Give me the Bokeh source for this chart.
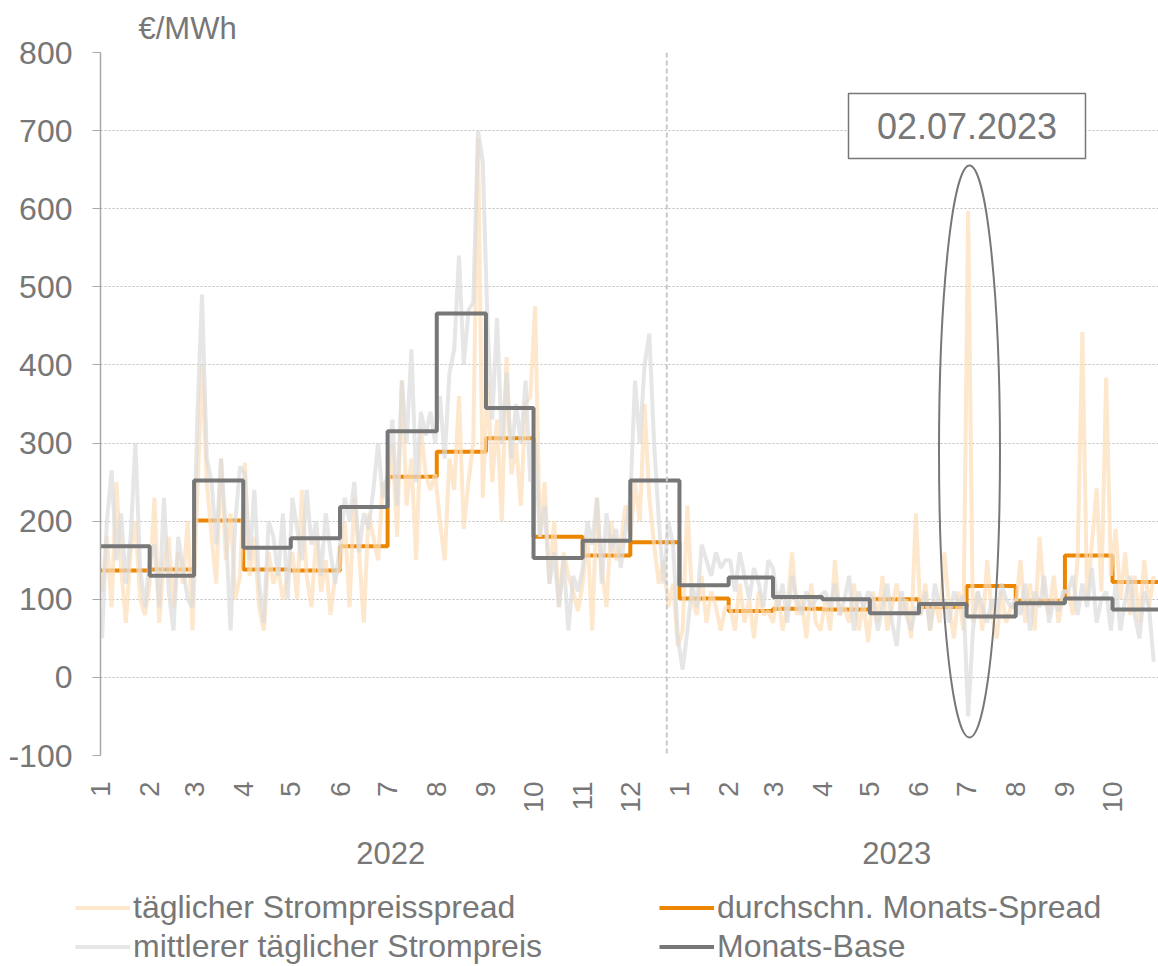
from math import pi
from bokeh.plotting import figure
from bokeh.models import (Range1d, FixedTicker, Legend, LegendItem, Label,
                          BoxAnnotation, Span, LinearAxis)
from bokeh.embed import file_html
from bokeh.resources import INLINE

# ---------------- data ----------------
# day index counted from 2022-01-01; month starts (last entry = end of axis)
month_start_day = [0, 31, 59, 90, 120, 151, 181, 212, 243, 273, 304, 334,
                   365, 396, 424, 455, 485, 516, 546, 577, 608, 638, 667]
month_labels = ["1", "2", "3", "4", "5", "6", "7", "8", "9", "10", "11", "12",
                "1", "2", "3", "4", "5", "6", "7", "8", "9", "10"]
year_labels = ["2022", "2023"]
year_center_day = [183, 502]

# monthly values (EUR/MWh)
monats_base = [168, 130, 252, 166, 178, 218, 315, 466, 345, 153, 175, 252,
               118, 128, 103, 100, 82, 94, 78, 95, 101, 87]
monats_spread = [137, 138, 201, 138, 137, 168, 257, 289, 306, 180, 156, 173,
                 101, 85, 88, 87, 100, 90, 117, 98, 156, 122]

# daily values, read every 3rd day starting 2022-01-02
first_day = 1
step_days = 3
daily_spread = [
    110, 180, 90, 250, 140, 70, 160, 200, 100, 80,            # Jan 22
    120, 230, 70, 150, 180, 90, 160, 120, 200, 60,            # Feb
    230, 400, 250, 180, 120, 280, 150, 210, 100, 130,         # Mar
    275, 130, 180, 90, 60, 160, 120, 140, 100, 130,           # Apr
    160, 100, 240, 130, 90, 180, 110, 150, 80, 130,           # May
    140, 200, 90, 230, 160, 70, 210, 180, 150, 250,           # Jun
    230, 300, 180, 380, 220, 280, 150, 320, 260, 240, 260,    # Jul
    200, 150, 280, 240, 360, 190, 250, 300, 690, 230,         # Aug
    380, 250, 330, 200, 410, 260, 300, 220, 350, 360,         # Sep
    475, 180, 250, 120, 200, 90, 160, 130, 110, 85,           # Oct
    120, 180, 60, 230, 140, 90, 200, 150, 170, 220,           # Nov
    180, 250, 200, 350, 230, 170, 120, 150, 90, 120, 40,      # Dec
    60, 220, 100, 80, 130, 70, 110, 90, 60, 90,               # Jan 23
    90, 60, 120, 70, 100, 50, 110, 80, 85,                    # Feb
    70, 110, 60, 90, 160, 80, 100, 50, 120, 70, 60,           # Mar
    100, 60, 150, 80, 90, 70, 120, 60, 95, 45,                # Apr
    110, 70, 130, 60, 90, 120, 80, 100, 50, 210,              # May
    80, 120, 60, 100, 70, 160, 90, 50, 110, 60,               # Jun
    597, 70, 110, 60, 150, 80, 50, 110, 70, 90,               # Jul
    90, 150, 70, 120, 60, 180, 100, 80, 130, 70, 110,         # Aug
    110, 80, 150, 442, 100, 170, 242, 110, 384, 130,          # Sep
    190, 100, 160, 80, 130, 70, 150, 90, 130,                 # Oct
]
daily_price = [
    50, 200, 265, 150, 210, 120, 180, 300, 140, 90,           # Jan 22
    150, 170, 90, 230, 110, 60, 180, 140, 100, 90,            # Feb
    330, 490, 280, 250, 170, 280, 190, 60, 200, 270,          # Mar
    260, 150, 240, 120, 70, 200, 180, 130, 210, 100,          # Apr
    230, 190, 150, 240, 170, 200, 130, 210, 160, 120,         # May
    170, 230, 200, 250, 160, 210, 190, 240, 300, 230,         # Jun
    260, 330, 220, 380, 300, 420, 250, 340, 310, 340, 300,    # Jul
    360, 280, 390, 420, 540, 400, 470, 480, 700, 660,         # Aug
    450, 330, 460, 300, 390, 280, 350, 300, 380, 250,         # Sep
    300, 180, 220, 120, 160, 90, 150, 60, 130, 110,           # Oct
    140, 200, 170, 230, 120, 210, 160, 190, 140, 190,         # Nov
    230, 380, 300, 400, 440, 300, 200, 120, 200, 170, 50,     # Dec
    10, 60, 120, 90, 170, 150, 130, 160, 140, 150,            # Jan 23
    150, 110, 160, 130, 100, 140, 120, 90, 150,               # Feb
    140, 90, 120, 70, 130, 100, 80, 110, 90, 100, 105,        # Mar
    110, 90, 120, 80, 100, 130, 60, 110, 90, 110,             # Apr
    100, 60, 90, 120, 70, 40, 110, 80, 60, 90,                # May
    80, 110, 60, 120, 90, 100, 70, 110, 95, 105,              # Jun
    -50, 60, 110, 90, 70, 100, 80, 120, 100, 90,              # Jul
    100, 80, 120, 60, 110, 90, 130, 70, 100, 85, 110,         # Aug
    110, 130, 80, 120, 90, 140, 70, 100, 110, 60,             # Sep
    120, 60, 100, 130, 80, 50, 110, 90, 20,                   # Oct
]
days = [first_day + step_days * i for i in range(len(daily_spread))]

highlight_text = "02.07.2023"
divider_day = 357
unit_text = "€/MWh"
legend_labels = ["täglicher Strompreisspread", "mittlerer täglicher Strompreis",
                 "durchschn. Monats-Spread", "Monats-Base"]

# ---------------- styling ----------------
FONT = "Liberation Sans"
TXT = "#777777"
ORANGE = "#EC8500"
DARK = "#777777"
LIGHT_OR = "#FCDDB8"
LIGHT_GR = "#DCDCDC"
FS = "31px"
FS_BIG = "32px"

W = 1158
H_MAIN, H_LEG = 880, 86
ML, MT = 100, 52
FW, FH = 1058, 703
X0, X1, Y0, Y1 = 0, 667, -100, 800
ppx = FW / (X1 - X0)          # px per day
ppy = FH / (Y1 - Y0)          # px per EUR


def dx(px):   # picture x -> day
    return X0 + (px - ML) / ppx


def dy(py):   # picture y -> value
    return Y1 - (py - MT) / ppy


# ---------------- main chart ----------------
p = figure(width=W, height=H_MAIN, x_range=Range1d(X0, X1), y_range=Range1d(Y0, Y1),
           output_backend="svg", toolbar_location=None,
           min_border_left=ML, min_border_right=W - ML - FW, min_border_top=MT,
           min_border_bottom=H_MAIN - MT - FH)
p.outline_line_color = None
p.background_fill_color = "white"
p.border_fill_color = "white"

# unit label as title
p.title.text = unit_text
p.title.align = "left"
p.title.offset = 38
p.title.standoff = 13
p.title.text_font = FONT
p.title.text_font_size = FS
p.title.text_font_style = "normal"
p.title.text_color = TXT

yticks = list(range(-100, 801, 100))
p.xgrid.visible = False
p.ygrid.ticker = FixedTicker(ticks=yticks)
p.ygrid.grid_line_color = "#BDBDBD"
p.ygrid.grid_line_dash = "2 2"
p.ygrid.grid_line_width = 1

p.yaxis.ticker = FixedTicker(ticks=yticks)
p.yaxis.major_label_overrides = {t: str(t) for t in yticks}
p.yaxis.axis_line_color = "#A8A8A8"
p.yaxis.axis_line_width = 1.5
p.yaxis.major_tick_line_color = "#A8A8A8"
p.yaxis.major_tick_out = 8
p.yaxis.major_tick_in = 0
p.yaxis.minor_tick_line_color = None
p.yaxis.major_label_standoff = 20
p.yaxis.major_label_text_font = FONT
p.yaxis.major_label_text_font_size = FS_BIG
p.yaxis.major_label_text_color = TXT

p.xaxis.ticker = FixedTicker(ticks=month_start_day[:-1])
p.xaxis.major_label_overrides = {d: l for d, l in zip(month_start_day[:-1], month_labels)}
p.xaxis.major_label_orientation = pi / 2
p.xaxis.axis_line_color = None
p.xaxis.major_tick_line_color = None
p.xaxis.minor_tick_line_color = None
p.xaxis.major_label_standoff = 20
p.xaxis.major_label_text_font = FONT
p.xaxis.major_label_text_font_size = "28px"
p.xaxis.major_label_text_color = TXT

year_axis = LinearAxis(ticker=FixedTicker(ticks=year_center_day),
                       major_label_overrides={d: t for d, t in zip(year_center_day, year_labels)},
                       axis_line_color=None, major_tick_line_color=None,
                       minor_tick_line_color=None, major_label_standoff=20,
                       major_label_text_font=FONT, major_label_text_font_size=FS,
                       major_label_text_color=TXT)
p.add_layout(year_axis, "below")

p.add_layout(Span(location=divider_day, dimension="height", line_color="#C8C8C8",
                  line_dash="5 3", line_width=2))

r_sm = p.step(month_start_day, monats_spread + [monats_spread[-1]], mode="after",
              line_color=ORANGE, line_width=4)
r_sd = p.line(days, daily_spread, line_color=LIGHT_OR, line_alpha=0.7, line_width=4)
r_pd = p.line(days, daily_price, line_color=LIGHT_GR, line_alpha=0.7, line_width=4)
r_bm = p.step(month_start_day, monats_base + [monats_base[-1]], mode="after",
              line_color=DARK, line_width=4)

# highlight ellipse and date box
p.ellipse(x=[dx(969)], y=[dy(451)], width=[dx(1000) - dx(939)],
          height=[dy(165) - dy(737)], fill_color=None, line_color=DARK, line_width=2)
p.add_layout(BoxAnnotation(left=dx(848), right=dx(1085), top=dy(93), bottom=dy(158),
                           fill_color="white", fill_alpha=1, line_color=DARK,
                           line_alpha=1, line_width=1.5))
p.add_layout(Label(x=(dx(848) + dx(1085)) / 2, y=(dy(93) + dy(158)) / 2,
                   text=highlight_text, text_align="center", text_baseline="middle",
                   text_font=FONT, text_font_size="36px", text_color=TXT))

# ---------------- legend strip ----------------
nan = float("nan")
lg = figure(width=W, height=H_LEG, x_range=Range1d(0, W), y_range=Range1d(0, H_LEG),
            output_backend="svg", toolbar_location=None,
            x_axis_type=None, y_axis_type=None,
            min_border_left=0, min_border_right=0, min_border_top=0, min_border_bottom=0)
lg.outline_line_color = None
lg.grid.visible = False
lg.background_fill_color = "white"
lg.border_fill_color = "white"
l_sd = lg.line([nan], [nan], line_color=LIGHT_OR, line_alpha=0.7, line_width=4)
l_pd = lg.line([nan], [nan], line_color=LIGHT_GR, line_alpha=0.7, line_width=4)
l_sm = lg.line([nan], [nan], line_color=ORANGE, line_width=4)
l_bm = lg.line([nan], [nan], line_color=DARK, line_width=4)

legend = Legend(items=[LegendItem(label=t, renderers=[r])
                       for t, r in zip(legend_labels, [l_sd, l_pd, l_sm, l_bm])],
                location=(75, 1), nrows=2, orientation="vertical",
                glyph_width=55, glyph_height=31, label_height=31, label_standoff=3,
                label_width=524, spacing=2, padding=0, margin=0,
                label_text_font=FONT, label_text_font_size=FS_BIG, label_text_color=TXT,
                border_line_color=None, background_fill_alpha=0)
lg.add_layout(legend, "center")

open("out.html", "w").write(file_html([p, lg], INLINE))
